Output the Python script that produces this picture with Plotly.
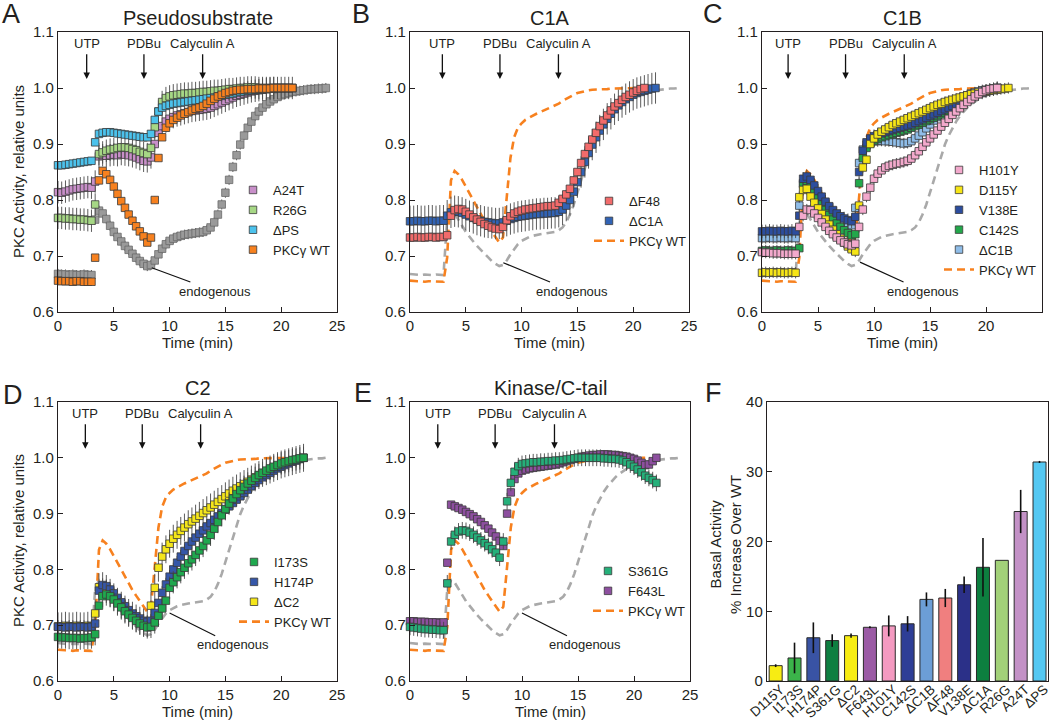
import plotly.graph_objects as go

W, H = 1050, 721
FONT = "Liberation Sans, Arial, Helvetica, sans-serif"
INK = "#231f20"

# sampling times (min), one image every 20 s
T = [0.0, 0.33, 0.67, 1.0, 1.33, 1.67, 2.0, 2.33, 2.67, 3.0,
     3.33, 3.67, 4.0, 4.33, 4.67, 5.0, 5.33, 5.67, 6.0, 6.33,
     6.67, 7.0, 7.33, 7.67, 8.0, 8.33, 8.67, 9.0, 9.33, 9.67,
     10.0, 10.33, 10.67, 11.0, 11.33, 11.67, 12.0, 12.33, 12.67, 13.0,
     13.33, 13.67, 14.0, 14.33, 14.67, 15.0, 15.33, 15.67, 16.0, 16.33,
     16.67, 17.0, 17.33, 17.67, 18.0, 18.33, 18.67, 19.0, 19.33, 19.67,
     20.0, 20.33, 20.67, 21.0, 21.33, 21.67, 22.0, 22.33, 22.67, 23.0,
     23.33, 23.67, 24.0]

# panel A - pseudosubstrate (plus WT / endogenous, reused as dashed refs)
ENDO = [0.668, 0.667, 0.667, 0.666, 0.667, 0.666, 0.666, 0.667, 0.666, 0.666,
        0.765, 0.781, 0.776, 0.766, 0.754, 0.743, 0.734, 0.726, 0.718, 0.711,
        0.704, 0.697, 0.691, 0.686, 0.682, 0.684, 0.692, 0.703, 0.713, 0.721,
        0.727, 0.731, 0.734, 0.736, 0.738, 0.739, 0.740, 0.741, 0.742, 0.743,
        0.746, 0.751, 0.760, 0.774, 0.792, 0.813, 0.836, 0.859, 0.880, 0.899,
        0.915, 0.929, 0.940, 0.950, 0.958, 0.965, 0.971, 0.976, 0.980, 0.984,
        0.987, 0.989, 0.991, 0.993, 0.994, 0.995, 0.996, 0.997, 0.998, 0.998,
        0.999, 0.999, 1.000]
WT = [0.656, 0.655, 0.655, 0.655, 0.654, 0.655, 0.655, 0.654, 0.654, 0.654,
      0.697, 0.835, 0.852, 0.846, 0.836, 0.824, 0.811, 0.798, 0.786, 0.774,
      0.763, 0.753, 0.744, 0.735, 0.724, 0.733, 0.800, 0.875, 0.912, 0.929,
      0.937, 0.943, 0.947, 0.951, 0.954, 0.957, 0.960, 0.963, 0.965, 0.968,
      0.972, 0.977, 0.981, 0.985, 0.988, 0.991, 0.993, 0.995, 0.996, 0.997,
      0.997, 0.998, 0.998, 0.998, 0.999, 0.999, 0.999, 0.999, 1.000, 1.000,
      1.000, 1.000, 1.000, 1.000]
A24T = [0.814, 0.813, 0.815, 0.817, 0.819, 0.820, 0.821, 0.822, 0.823, 0.822,
        0.833, 0.878, 0.880, 0.879, 0.880, 0.881, 0.880, 0.882, 0.881, 0.880,
        0.878, 0.876, 0.873, 0.870, 0.869, 0.876, 0.900, 0.920, 0.932, 0.940,
        0.945, 0.948, 0.951, 0.953, 0.955, 0.957, 0.959, 0.960, 0.961, 0.962,
        0.963, 0.965, 0.968, 0.971, 0.974, 0.977, 0.980, 0.983, 0.986, 0.988,
        0.990, 0.992, 0.994, 0.995, 0.996, 0.997, 0.998, 0.999, 1.000, 1.000,
        1.000, 1.000, 1.000, 1.000]
R26G = [0.768, 0.768, 0.767, 0.767, 0.766, 0.766, 0.765, 0.765, 0.764, 0.763,
        0.792, 0.882, 0.885, 0.888, 0.890, 0.891, 0.893, 0.894, 0.894, 0.893,
        0.891, 0.889, 0.886, 0.884, 0.882, 0.893, 0.930, 0.958, 0.975, 0.982,
        0.985, 0.987, 0.988, 0.989, 0.990, 0.990, 0.991, 0.991, 0.992, 0.993,
        0.993, 0.994, 0.995, 0.995, 0.996, 0.997, 0.998, 0.998, 0.999, 1.000,
        1.000, 1.001, 1.001, 1.001, 1.000, 1.000, 1.000, 1.000, 1.000]
DPS = [0.862, 0.862, 0.863, 0.864, 0.865, 0.866, 0.867, 0.868, 0.869, 0.870,
       0.903, 0.918, 0.920, 0.921, 0.921, 0.920, 0.919, 0.918, 0.917, 0.916,
       0.915, 0.914, 0.913, 0.912, 0.912, 0.918, 0.943, 0.958, 0.965, 0.968,
       0.970, 0.972, 0.973, 0.974, 0.975, 0.976, 0.977, 0.978, 0.979, 0.980,
       0.981, 0.982, 0.983, 0.985, 0.986, 0.988, 0.989, 0.990, 0.992, 0.993,
       0.994, 0.995, 0.996, 0.997, 0.997, 0.998, 0.998, 0.999, 0.999, 1.000,
       1.000, 1.000, 1.000, 1.000]

# panel B - C1A
DF48 = [0.733, 0.733, 0.734, 0.733, 0.733, 0.734, 0.734, 0.733, 0.734, 0.734,
        0.737, 0.772, 0.782, 0.784, 0.783, 0.779, 0.774, 0.769, 0.765, 0.761,
        0.757, 0.754, 0.751, 0.749, 0.748, 0.752, 0.764, 0.771, 0.776, 0.779,
        0.781, 0.783, 0.784, 0.785, 0.786, 0.787, 0.788, 0.789, 0.789, 0.790,
        0.795, 0.802, 0.810, 0.820, 0.835, 0.850, 0.866, 0.882, 0.895, 0.908,
        0.920, 0.932, 0.942, 0.951, 0.960, 0.967, 0.973, 0.979, 0.984, 0.988,
        0.992, 0.995, 0.998, 1.000]
DC1A = [0.762, 0.762, 0.763, 0.762, 0.762, 0.763, 0.763, 0.762, 0.763, 0.763,
        0.772, 0.778, 0.780, 0.779, 0.777, 0.774, 0.771, 0.768, 0.765, 0.763,
        0.761, 0.760, 0.759, 0.758, 0.758, 0.760, 0.763, 0.766, 0.768, 0.770,
        0.771, 0.772, 0.773, 0.774, 0.775, 0.775, 0.776, 0.776, 0.777, 0.777,
        0.779, 0.783, 0.790, 0.800, 0.815, 0.832, 0.850, 0.868, 0.884, 0.899,
        0.912, 0.924, 0.935, 0.945, 0.954, 0.962, 0.969, 0.975, 0.980, 0.984,
        0.988, 0.991, 0.993, 0.995, 0.997, 0.999, 1.000]

# panel C - C1B
H101Y = [0.707, 0.706, 0.706, 0.705, 0.705, 0.705, 0.704, 0.704, 0.704, 0.704,
         0.752, 0.772, 0.783, 0.782, 0.776, 0.768, 0.760, 0.752, 0.745, 0.739,
         0.733, 0.728, 0.724, 0.721, 0.719, 0.722, 0.752, 0.783, 0.806, 0.822,
         0.838, 0.847, 0.853, 0.858, 0.861, 0.863, 0.865, 0.866, 0.868, 0.870,
         0.874, 0.880, 0.887, 0.895, 0.903, 0.910, 0.917, 0.924, 0.931, 0.938,
         0.945, 0.952, 0.958, 0.964, 0.970, 0.975, 0.980, 0.985, 0.989, 0.993,
         0.996, 0.998, 0.999, 1.000]
D115Y = [0.670, 0.671, 0.670, 0.671, 0.670, 0.671, 0.670, 0.670, 0.671, 0.670,
         0.805, 0.818, 0.820, 0.806, 0.795, 0.785, 0.775, 0.765, 0.756, 0.747,
         0.739, 0.731, 0.724, 0.717, 0.712, 0.708, 0.790, 0.858, 0.872, 0.900,
         0.910, 0.917, 0.922, 0.926, 0.930, 0.934, 0.937, 0.940, 0.943, 0.946,
         0.949, 0.952, 0.955, 0.958, 0.961, 0.964, 0.967, 0.970, 0.972, 0.975,
         0.977, 0.979, 0.981, 0.983, 0.985, 0.987, 0.989, 0.990, 0.992, 0.993,
         0.994, 0.995, 0.996, 0.997, 0.998, 0.999, 1.000]
V138E = [0.744, 0.744, 0.745, 0.744, 0.744, 0.745, 0.744, 0.744, 0.745, 0.744,
         0.772, 0.838, 0.842, 0.836, 0.826, 0.816, 0.806, 0.797, 0.789, 0.782,
         0.776, 0.771, 0.767, 0.764, 0.762, 0.770, 0.850, 0.888, 0.903, 0.910,
         0.914, 0.917, 0.919, 0.921, 0.923, 0.925, 0.927, 0.929, 0.931, 0.933,
         0.935, 0.938, 0.941, 0.944, 0.947, 0.950, 0.953, 0.956, 0.959, 0.962,
         0.965, 0.968, 0.971, 0.974, 0.977, 0.980, 0.983, 0.986, 0.989, 0.992,
         0.994, 0.996, 0.998, 1.000]
C142S = [0.709, 0.710, 0.709, 0.709, 0.710, 0.709, 0.709, 0.710, 0.709, 0.709,
         0.714, 0.830, 0.834, 0.827, 0.815, 0.803, 0.792, 0.782, 0.773, 0.765,
         0.758, 0.752, 0.746, 0.741, 0.737, 0.739, 0.830, 0.875, 0.893, 0.901,
         0.906, 0.909, 0.912, 0.914, 0.916, 0.918, 0.920, 0.922, 0.924, 0.926,
         0.929, 0.932, 0.935, 0.938, 0.941, 0.944, 0.947, 0.950, 0.953, 0.956,
         0.960, 0.964, 0.968, 0.972, 0.976, 0.980, 0.984, 0.987, 0.990, 0.993,
         0.995, 0.997, 0.999, 1.000]
DC1B = [0.732, 0.732, 0.733, 0.732, 0.732, 0.733, 0.732, 0.732, 0.733, 0.732,
        0.790, 0.828, 0.826, 0.818, 0.809, 0.800, 0.792, 0.785, 0.779, 0.773,
        0.768, 0.763, 0.759, 0.756, 0.755, 0.786, 0.866, 0.890, 0.899, 0.903,
        0.905, 0.905, 0.906, 0.905, 0.905, 0.904, 0.903, 0.902, 0.901, 0.902,
        0.905, 0.910, 0.915, 0.921, 0.928, 0.935, 0.942, 0.948, 0.954, 0.960,
        0.966, 0.971, 0.976, 0.980, 0.984, 0.987, 0.990, 0.992, 0.994, 0.996,
        0.997, 0.998, 0.999, 1.000]

# panel D - C2
I173S = [0.679, 0.678, 0.678, 0.677, 0.677, 0.677, 0.676, 0.677, 0.677, 0.678,
         0.684, 0.735, 0.752, 0.755, 0.752, 0.746, 0.739, 0.732, 0.725, 0.719,
         0.713, 0.708, 0.703, 0.699, 0.696, 0.697, 0.705, 0.717, 0.730, 0.744,
         0.767, 0.777, 0.786, 0.795, 0.803, 0.811, 0.818, 0.826, 0.834, 0.842,
         0.852, 0.862, 0.873, 0.885, 0.897, 0.908, 0.918, 0.927, 0.935, 0.942,
         0.948, 0.954, 0.959, 0.964, 0.969, 0.973, 0.977, 0.981, 0.984, 0.987,
         0.990, 0.992, 0.994, 0.996, 0.997, 0.999, 1.000]
H174P = [0.697, 0.697, 0.696, 0.697, 0.697, 0.696, 0.697, 0.697, 0.696, 0.697,
         0.703, 0.762, 0.772, 0.770, 0.764, 0.757, 0.749, 0.741, 0.734, 0.727,
         0.721, 0.716, 0.712, 0.708, 0.706, 0.708, 0.722, 0.740, 0.758, 0.773,
         0.787, 0.800, 0.812, 0.823, 0.833, 0.842, 0.850, 0.857, 0.864, 0.870,
         0.877, 0.883, 0.889, 0.895, 0.901, 0.907, 0.913, 0.919, 0.925, 0.931,
         0.937, 0.943, 0.949, 0.955, 0.960, 0.965, 0.969, 0.973, 0.977, 0.981,
         0.984, 0.987, 0.990, 0.993, 0.995, 0.998, 1.000]
DC2 = [0.698, 0.698, 0.699, 0.698, 0.698, 0.699, 0.698, 0.698, 0.699, 0.698,
       0.721, 0.768, 0.770, 0.765, 0.758, 0.750, 0.742, 0.735, 0.728, 0.722,
       0.717, 0.712, 0.708, 0.705, 0.704, 0.735, 0.767, 0.803, 0.823, 0.836,
       0.846, 0.855, 0.862, 0.869, 0.875, 0.881, 0.886, 0.891, 0.896, 0.901,
       0.906, 0.911, 0.916, 0.921, 0.926, 0.931, 0.936, 0.941, 0.945, 0.949,
       0.953, 0.957, 0.961, 0.965, 0.969, 0.973, 0.976, 0.979, 0.982, 0.985,
       0.988, 0.990, 0.992, 0.994, 0.996, 0.998, 1.000]

# panel E - kinase / C-tail
S361G = [0.697, 0.696, 0.695, 0.694, 0.693, 0.693, 0.692, 0.692, 0.691, 0.691,
         0.775, 0.850, 0.862, 0.868, 0.870, 0.869, 0.866, 0.862, 0.857, 0.852,
         0.847, 0.842, 0.836, 0.830, 0.821, 0.850, 0.922, 0.955, 0.975, 0.985,
         0.989, 0.990, 0.991, 0.992, 0.992, 0.993, 0.993, 0.994, 0.994, 0.995,
         0.995, 0.996, 0.997, 0.998, 0.999, 1.000, 1.000, 1.000, 1.000, 1.000,
         1.000, 1.000, 0.999, 0.999, 0.998, 0.998, 0.997, 0.995, 0.992, 0.988,
         0.984, 0.979, 0.974, 0.968, 0.964, 0.960, 0.955]
F643L = [0.707, 0.707, 0.706, 0.706, 0.706, 0.705, 0.705, 0.705, 0.704, 0.705,
         0.812, 0.916, 0.913, 0.910, 0.907, 0.903, 0.899, 0.895, 0.890, 0.885,
         0.879, 0.873, 0.866, 0.859, 0.851, 0.842, 0.900, 0.938, 0.962, 0.972,
         0.977, 0.979, 0.981, 0.982, 0.983, 0.984, 0.985, 0.986, 0.987, 0.988,
         0.990, 0.992, 0.994, 0.996, 0.998, 1.000, 1.002, 1.003, 1.004, 1.005,
         1.005, 1.006, 1.006, 1.006, 1.005, 1.005, 1.004, 1.003, 1.002, 1.000,
         0.998, 0.995, 0.991, 0.987, 0.988, 0.994, 1.000]

# panel F - basal activity, % increase over WT
BAR_LABELS = ["D115Y", "I173S", "H174P", "S361G", "ΔC2", "F643L", "H101Y", "C142S",
              "ΔC1B", "ΔF48", "V138E", "ΔC1A", "R26G", "A24T", "ΔPS"]
BAR_VALUES = [2.2, 3.3, 6.2, 5.8, 6.5, 7.7, 7.9, 8.2, 11.7, 11.9, 13.8, 16.3, 17.3, 24.3, 31.4]
BAR_ERRORS = [0.2, 2.2, 2.2, 0.9, 0.3, 0.15, 1.5, 1.1, 1.0, 1.3, 1.2, 4.2, 0.0, 3.1, 0.15]
BAR_COLORS = ["#f7ec13", "#3bb44a", "#3953a4", "#0e7f41", "#f7ec13", "#9b5ba5", "#f49ac1", "#2e3e96",
              "#6c9ed6", "#f07f7f", "#2b3088", "#0d7f3f", "#a2d179", "#c391c6", "#55c8f2"]

TITLES = ["Pseudosubstrate", "C1A", "C1B", "C2", "Kinase/C-tail", ""]
LETTERS = ["A", "B", "C", "D", "E", "F"]
DRUGS = ["UTP", "PDBu", "Calyculin A"]
DRUG_TIMES = {1: [2.57, 7.7, 12.96], 2: [2.9, 8.06, 13.3], 3: [2.33, 7.46, 12.7],
              4: [2.45, 7.55, 12.78], 5: [2.48, 7.6, 12.9]}

# panel boxes in page pixels: left, right, top, bottom
BOXES = {1: (58, 337, 32, 312), 2: (410, 689, 32, 312), 3: (762, 1042, 32, 312),
         4: (58, 337, 402, 681), 5: (410, 690, 402, 681), 6: (767, 1048, 402, 681)}
LETTER_POS = {1: (11, 14), 2: (361, 14), 3: (713, 14), 4: (13, 395), 5: (363, 393), 6: (713, 393)}


def px(x):
    return x / W


def py(y):
    return 1 - y / H


def ax_ids(n):
    return ("x", "y") if n == 1 else (f"x{n}", f"y{n}")


fig = go.Figure()


def dashed_refs(n):
    xa, ya = ax_ids(n)
    fig.add_trace(go.Scatter(x=T[:len(ENDO)], y=ENDO, mode="lines", xaxis=xa, yaxis=ya, showlegend=False,
                             line=dict(color="#a9a9a9", width=2.6, dash="8px,5px"), hoverinfo="skip"))
    fig.add_trace(go.Scatter(x=T[:len(WT)], y=WT, mode="lines", xaxis=xa, yaxis=ya, name="PKCγ WT",
                             legend="legend" if n == 1 else f"legend{n}", legendrank=900,
                             line=dict(color="#f7811f", width=2.6, dash="8px,5px")))


def squares(n, name, ys, err, color, rank, legend=True, edge="#3a3a3a"):
    xa, ya = ax_ids(n)
    fig.add_trace(go.Scatter(
        x=T[:len(ys)], y=ys, mode="markers", name=name, xaxis=xa, yaxis=ya, cliponaxis=False,
        showlegend=legend, legend="legend" if n == 1 else f"legend{n}", legendrank=rank,
        marker=dict(symbol="square", size=7.5, color=color, line=dict(color=edge, width=0.8)),
        error_y=dict(type="constant", value=err, color="#4a4a4a", thickness=0.9, width=0),
    ))


# A
squares(1, "endogenous", ENDO, 0.009, "#9a9a9a", 950, legend=False, edge="#6a6a6a")
squares(1, "A24T", A24T, 0.02, "#c88fc9", 1)
squares(1, "R26G", R26G, 0.02, "#a6d785", 2)
squares(1, "ΔPS", DPS, 0.006, "#4cc2ec", 3)
squares(1, "PKCγ WT", WT, 0.006, "#f7811f", 4)
# B
dashed_refs(2)
squares(2, "ΔC1A", DC1A, 0.028, "#3163b5", 2)
squares(2, "ΔF48", DF48, 0.006, "#f26b6b", 1)
# C
dashed_refs(3)
squares(3, "ΔC1B", DC1B, 0.01, "#8fbde8", 5)
squares(3, "C142S", C142S, 0.01, "#22a84b", 4)
squares(3, "V138E", V138E, 0.012, "#2c4d9e", 3)
squares(3, "D115Y", D115Y, 0.01, "#f6e516", 2)
squares(3, "H101Y", H101Y, 0.01, "#f3a9cc", 1)
# D
dashed_refs(4)
squares(4, "ΔC2", DC2, 0.025, "#f5e61a", 3)
squares(4, "H174P", H174P, 0.012, "#3556a8", 2)
squares(4, "I173S", I173S, 0.02, "#1fa84e", 1)
# E
dashed_refs(5)
squares(5, "F643L", F643L, 0.006, "#8d4f9f", 2)
squares(5, "S361G", S361G, 0.015, "#25b07a", 1)
# F
fig.add_trace(go.Bar(
    x=BAR_LABELS, y=BAR_VALUES, xaxis="x6", yaxis="y6", width=0.69, showlegend=False,
    marker=dict(color=BAR_COLORS, line=dict(color="#2a2a2a", width=1)),
    error_y=dict(type="data", array=BAR_ERRORS, color="#111111", thickness=1.6, width=0),
))

axis_common = dict(showline=True, linecolor=INK, linewidth=1.4, mirror=True, ticks="inside", ticklen=5,
                   tickwidth=1, tickcolor=INK, showgrid=False, zeroline=False, automargin=False,
                   tickfont=dict(size=15, color=INK, family=FONT))
layout = {}
for n, (l, r, t, b) in BOXES.items():
    xa, ya = ax_ids(n)
    xkey = "xaxis" if n == 1 else f"xaxis{n}"
    ykey = "yaxis" if n == 1 else f"yaxis{n}"
    if n == 6:
        layout[xkey] = dict(axis_common, domain=[px(l), px(r)], anchor=ya, range=[-0.46, 14.45],
                            ticks="", tickangle=-42, ticklabelstandoff=-6, ticklabelshift=5,
                            tickfont=dict(size=13.5, color=INK, family=FONT))
        layout[ykey] = dict(axis_common, domain=[py(b), py(t)], anchor=xa, range=[0, 40], dtick=10)
    else:
        layout[xkey] = dict(axis_common, domain=[px(l), px(r)], anchor=ya, range=[0, 25], dtick=5, tick0=0)
        layout[ykey] = dict(axis_common, domain=[py(b), py(t)], anchor=xa, range=[0.6, 1.1], dtick=0.1,
                            tickformat=".1f")


def label(x, y, text, size, **kw):
    return dict(x=px(x), y=py(y), xref="paper", yref="paper", text=text, showarrow=False,
                xanchor="center", yanchor="middle", font=dict(size=size, color=INK, family=FONT), **kw)


notes = []
for i, (n, (l, r, t, b)) in enumerate(BOXES.items()):
    cx = (l + r) / 2
    notes.append(label(*LETTER_POS[n], LETTERS[i], 27))
    if TITLES[i]:
        notes.append(label(cx, t - 14, TITLES[i], 20))
    if n != 6:
        notes.append(label(cx, b + 30, "Time (min)", 15))
        xa, ya = ax_ids(n)
        for drug, tx in zip(DRUGS, DRUG_TIMES[n]):
            notes.append(dict(x=tx, y=1.016, xref=xa, yref=ya, ax=tx, ay=1.080, axref=xa, ayref=ya,
                              text=drug, showarrow=True, arrowhead=2, arrowsize=1, arrowwidth=1.3,
                              arrowcolor="#111111", startstandoff=2,
                              font=dict(size=13, color=INK, family=FONT)))

# endogenous call-outs: (panel, tip time, tip value, text time, text value)
for n, tx, ty, lx, ly in [(1, 8.4, 0.679, 14.05, 0.6375), (2, 8.36, 0.688, 14.5, 0.6375),
                           (3, 8.75, 0.689, 14.4, 0.6375), (4, 10.0, 0.722, 15.7, 0.665),
                           (5, 10.0, 0.722, 15.6, 0.665)]:
    xa, ya = ax_ids(n)
    notes.append(dict(x=tx, y=ty, xref=xa, yref=ya, ax=lx, ay=ly, axref=xa, ayref=ya, text="endogenous",
                      showarrow=True, arrowhead=0, arrowwidth=1.2, arrowcolor="#111111",
                      font=dict(size=13, color=INK, family=FONT)))

for yc in (172, 541):
    notes.append(label(18, yc, "PKC Activity, relative units", 15, textangle=-90))
notes.append(label(725, 545, "Basal Activity<br>% Increase Over WT", 15, textangle=-90))

legend_style = dict(font=dict(size=13, color=INK, family=FONT), bgcolor="rgba(0,0,0,0)",
                    xanchor="left", yanchor="top", itemwidth=30, tracegroupgap=0)
for n, (mx, my) in {1: (252, 188), 2: (608, 199), 3: (958, 168), 4: (253, 560), 5: (607, 569)}.items():
    key = "legend" if n == 1 else f"legend{n}"
    layout[key] = dict(legend_style, x=px(mx - 19), y=py(my - 13))

fig.update_layout(width=W, height=H, margin=dict(l=0, r=0, t=0, b=0), plot_bgcolor="white",
                  paper_bgcolor="white", font=dict(family=FONT, color=INK), annotations=notes,
                  bargap=0.3, **layout)
# the page's default 8px body margin would shift the figure
fig.write_html("out.html", config={"displayModeBar": False},
               post_script="document.body.style.margin='0';document.body.style.overflow='hidden';")
